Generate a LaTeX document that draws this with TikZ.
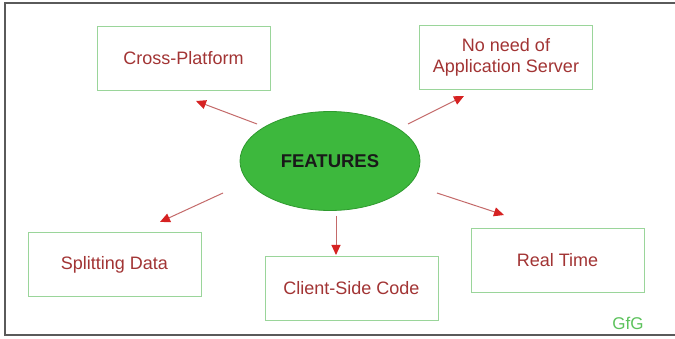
\documentclass[tikz,border=0pt]{standalone}
\usepackage{fontspec}
\setmainfont{Liberation Sans}
\usetikzlibrary{arrows.meta,shapes.geometric}
\definecolor{framegray}{HTML}{5A5A5A}
\definecolor{boxgreen}{HTML}{9AD59A}
\definecolor{labelred}{HTML}{A23434}
\definecolor{shaftred}{HTML}{C46A6A}
\definecolor{headred}{HTML}{D62222}
\definecolor{blobgreen}{HTML}{3DB83D}
\definecolor{blobedge}{HTML}{2E9A2E}
\definecolor{markgreen}{HTML}{5CC25C}
\tikzset{
  featbox/.style={draw=boxgreen, line width=0.9pt, minimum width=173pt, minimum height=64pt,
    inner sep=0pt, align=center, text=labelred, font=\fontsize{18}{21}\selectfont},
  featarrow/.style={draw=shaftred, line width=1pt,
    -{Triangle[length=10pt,width=9pt,fill=headred,color=headred]}}
}
\begin{document}
\begin{tikzpicture}[x=1pt,y=-1pt]
  \useasboundingbox (0,0) rectangle (675,339);
  \fill[white] (0,0) rectangle (675,339);
  % outer frame (open on the right)
  \draw[framegray, line width=2pt] (676,3) -- (5,3) -- (5,335) -- (676,335);

  % central ellipse
  \node[ellipse, fill=blobgreen, draw=blobedge, line width=0.8pt,
        minimum width=180pt, minimum height=99pt, inner sep=0pt,
        font=\fontsize{18.5}{20}\selectfont\bfseries, text=black!90]
        (feat) at (330,161) {FEATURES};

  % feature boxes
  \node[featbox] (cross) at (183.5,58) {Cross-Platform};
  \node[featbox] (noneed) at (506,57.5) {No need of\\Application Server};
  \node[featbox] (split) at (114.5,264.5) {Splitting Data};
  \node[featbox] (client) at (351.5,288.5) {Client-Side Code};
  \node[featbox] (real) at (557.5,260) {Real Time};

  % arrow anchors just off the ellipse and the boxes
  \coordinate (c1s) at (257,124); \coordinate (c1e) at (196,101);
  \coordinate (c2s) at (408,124); \coordinate (c2e) at (464,96);
  \coordinate (c3s) at (223,193); \coordinate (c3e) at (160,222);
  \coordinate (c4s) at (336,216); \coordinate (c4e) at (336,255);
  \coordinate (c5s) at (437,193); \coordinate (c5e) at (504,215);

  \draw[featarrow] (c1s) -- (c1e);
  \draw[featarrow] (c2s) -- (c2e);
  \draw[featarrow] (c3s) -- (c3e);
  \draw[featarrow] (c4s) -- (c4e);
  \draw[featarrow] (c5s) -- (c5e);

  % watermark
  \node[text=markgreen, font=\fontsize{17}{18}\selectfont, inner sep=0pt] (mark) at (628,323) {GfG};
\end{tikzpicture}
\end{document}
